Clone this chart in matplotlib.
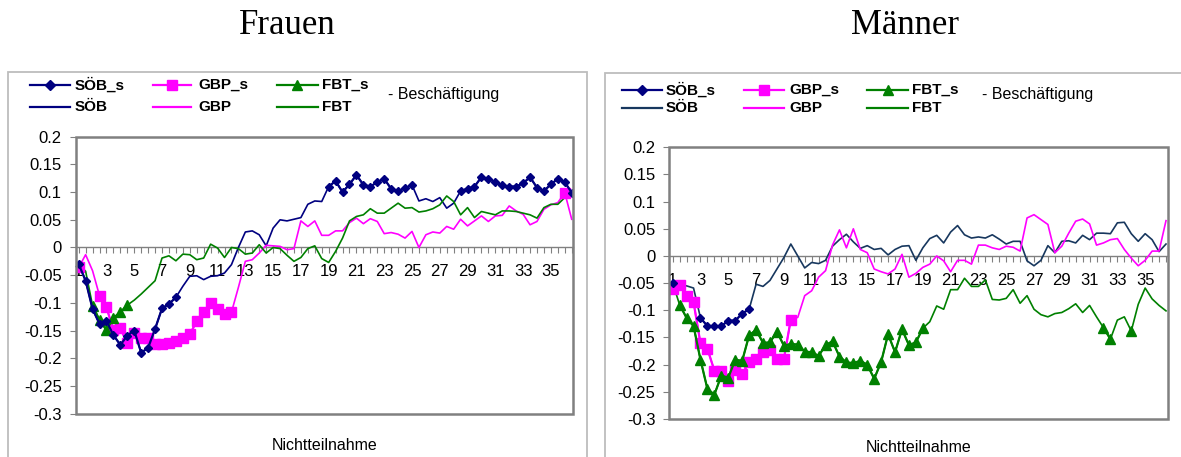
import numpy as np
import matplotlib
matplotlib.use('Agg')
import matplotlib.pyplot as plt
from matplotlib.lines import Line2D
from matplotlib.patches import Rectangle

plt.rcParams['font.family'] = ['Liberation Sans', 'DejaVu Sans']

# ---------------- data ----------------
# categories: half-month steps 1, 1.5, ..., 36.5
months = np.arange(1, 37, 0.5)
tick_months = list(range(1, 37, 2))          # labelled categories
yticks = [0.2, 0.15, 0.1, 0.05, 0, -0.05, -0.1, -0.15, -0.2, -0.25, -0.3]
ytick_labels = ["0.2", "0.15", "0.1", "0.05", "0", "-0.05", "-0.1", "-0.15", "-0.2", "-0.25", "-0.3"]

# Frauen
soeb_f = [-0.030, -0.060, -0.111, -0.138, -0.133, -0.158, -0.176, -0.159, -0.150, -0.190,
          -0.181, -0.147, -0.110, -0.102, -0.090, -0.070, -0.052, -0.051, -0.058, -0.052,
          -0.051, -0.046, -0.031, 0.000, 0.028, 0.030, 0.023, 0.003, 0.035, 0.050,
          0.048, 0.051, 0.054, 0.078, 0.084, 0.083, 0.110, 0.120, 0.100, 0.114,
          0.131, 0.113, 0.110, 0.118, 0.124, 0.106, 0.102, 0.107, 0.113, 0.084,
          0.088, 0.083, 0.090, 0.071, 0.080, 0.102, 0.106, 0.110, 0.127, 0.124,
          0.118, 0.112, 0.110, 0.110, 0.116, 0.127, 0.108, 0.102, 0.114, 0.124,
          0.118, 0.099]
gbp_f = [-0.036, -0.013, -0.042, -0.087, -0.108, -0.149, -0.146, -0.173, -0.155, -0.164,
         -0.164, -0.175, -0.174, -0.173, -0.168, -0.163, -0.157, -0.133, -0.117, -0.101,
         -0.111, -0.120, -0.117, -0.072, -0.025, -0.022, -0.010, 0.004, 0.003, 0.002,
         -0.004, -0.002, 0.048, 0.038, 0.048, 0.022, 0.022, 0.030, 0.030, 0.045,
         0.053, 0.043, 0.052, 0.047, 0.025, 0.027, 0.024, 0.017, 0.029, 0.000,
         0.023, 0.028, 0.026, 0.038, 0.033, 0.051, 0.039, 0.048, 0.057, 0.047,
         0.057, 0.058, 0.075, 0.066, 0.060, 0.041, 0.047, 0.069, 0.077, 0.081,
         0.099, 0.051]
fbt_f = [-0.030, -0.043, -0.105, -0.131, -0.149, -0.127, -0.117, -0.104, -0.095, -0.084,
         -0.072, -0.060, -0.019, -0.015, -0.024, -0.012, -0.013, -0.022, -0.019, 0.006,
         -0.001, -0.018, 0.000, -0.002, -0.012, -0.010, 0.005, -0.010, 0.000, -0.002,
         -0.014, -0.025, -0.018, -0.002, 0.003, -0.020, -0.027, -0.007, 0.017, 0.048,
         0.056, 0.059, 0.070, 0.062, 0.062, 0.071, 0.080, 0.071, 0.072, 0.064,
         0.066, 0.070, 0.077, 0.093, 0.083, 0.059, 0.072, 0.054, 0.065, 0.062,
         0.059, 0.066, 0.066, 0.065, 0.062, 0.059, 0.053, 0.072, 0.078, 0.078,
         0.090, None]
# significant (index ranges, inclusive) -> *_s series
sig_soeb_f = [(0, 14), (36, 48), (55, 71)]
sig_gbp_f = [(0, 0), (3, 22), (70, 70)]
sig_fbt_f = [(2, 7)]

# Maenner
soeb_m = [-0.050, -0.053, -0.055, -0.059, -0.114, -0.129, -0.129, -0.129, -0.119, -0.119,
          -0.106, -0.098, -0.052, -0.056, -0.045, -0.024, -0.003, 0.022, 0.000, -0.022,
          -0.012, -0.014, -0.008, 0.018, 0.030, 0.040, 0.026, 0.014, 0.019, 0.012,
          0.014, 0.002, 0.012, 0.018, 0.019, -0.008, 0.015, 0.032, 0.038, 0.024,
          0.044, 0.056, 0.039, 0.033, 0.035, 0.033, 0.039, 0.031, 0.022, 0.027,
          0.027, -0.009, -0.018, -0.008, 0.019, 0.006, 0.027, 0.028, 0.024, 0.038,
          0.030, 0.042, 0.042, 0.041, 0.061, 0.062, 0.041, 0.027, 0.041, 0.030,
          0.008, 0.022]
gbp_m = [-0.061, -0.053, -0.074, -0.085, -0.161, -0.171, -0.211, -0.211, -0.230, -0.210,
         -0.218, -0.195, -0.190, -0.177, -0.173, -0.189, -0.189, -0.117, -0.113, -0.073,
         -0.064, -0.039, -0.027, 0.020, 0.048, 0.015, 0.050, 0.012, 0.006, -0.024,
         -0.029, -0.033, -0.024, 0.003, -0.039, -0.032, -0.021, -0.015, 0.000, -0.009,
         -0.029, -0.008, -0.008, -0.015, 0.020, 0.020, 0.015, 0.012, 0.018, 0.016,
         0.009, 0.070, 0.076, 0.067, 0.058, 0.006, 0.018, 0.042, 0.064, 0.068,
         0.059, 0.020, 0.024, 0.030, 0.032, 0.012, -0.004, -0.018, -0.008, 0.009,
         0.009, 0.065]
fbt_m = [-0.050, -0.090, -0.114, -0.129, -0.191, -0.245, -0.255, -0.220, -0.224, -0.191,
         -0.193, -0.146, -0.136, -0.160, -0.159, -0.139, -0.165, -0.162, -0.163, -0.176,
         -0.177, -0.184, -0.164, -0.157, -0.185, -0.196, -0.197, -0.193, -0.200, -0.226,
         -0.195, -0.144, -0.177, -0.135, -0.164, -0.159, -0.133, -0.121, -0.092, -0.098,
         -0.062, -0.062, -0.041, -0.056, -0.056, -0.044, -0.080, -0.081, -0.078, -0.062,
         -0.087, -0.073, -0.098, -0.108, -0.112, -0.106, -0.104, -0.097, -0.088, -0.104,
         -0.091, -0.112, -0.132, -0.153, -0.118, -0.112, -0.138, -0.089, -0.059, -0.079,
         -0.091, -0.101]
sig_soeb_m = [(0, 0), (4, 11)]
sig_gbp_m = [(0, 17)]
sig_fbt_m = [(1, 36), (62, 63), (66, 66)]

# ---------------- style ----------------
C_SOEB = '#000080'
C_SOEB_M_LINE = '#17375E'
C_GBP = '#FF00FF'
C_FBT = '#008000'
GRAY = '#808080'

W, H = 1181, 457
fig = plt.figure(figsize=(W / 100, H / 100), dpi=100)


def fx(x):
    return x / W


def fy(y):
    return 1 - y / H


def to_arr(v):
    return np.array([np.nan if a is None else a for a in v], dtype=float)


def sig_series(v, ranges):
    arr = to_arr(v)
    out = np.full_like(arr, np.nan)
    for a, b in ranges:
        out[a:b + 1] = arr[a:b + 1]
    return out


def panel(box, xlim, series, soeb_line_color):
    l, t, r, b = box
    ax = fig.add_axes([fx(l), fy(b), fx(r) - fx(l), fy(t) - fy(b)])
    x = np.arange(len(months))
    (soeb, s_soeb), (gbp, s_gbp), (fbt, s_fbt) = series
    ax.plot(x, to_arr(soeb), color=soeb_line_color, lw=1.2, zorder=3)
    ax.plot(x, to_arr(gbp), color=C_GBP, lw=1.2, zorder=3)
    ax.plot(x, to_arr(fbt), color=C_FBT, lw=1.2, zorder=3)
    ax.plot(x, sig_series(soeb, s_soeb), color=C_SOEB, lw=1.6, marker='D', ms=4.5, zorder=5)
    ax.plot(x, sig_series(gbp, s_gbp), color=C_GBP, lw=1.6, marker='s', ms=6.5, zorder=4)
    ax.plot(x, sig_series(fbt, s_fbt), color=C_FBT, lw=1.6, marker='^', ms=6.5, zorder=4)

    ax.set_xlim(*xlim)
    ax.set_ylim(-0.3, 0.2)
    for s in ['top', 'right', 'left']:
        ax.spines[s].set_visible(False)
    ax.spines['bottom'].set_position(('data', 0))
    ax.spines['bottom'].set_color(GRAY)
    ax.spines['bottom'].set_linewidth(1.0)
    ax.add_patch(Rectangle((0, 0), 1, 1, transform=ax.transAxes, fill=False,
                           ec=GRAY, lw=1.8, zorder=6, clip_on=False))
    ax.set_xticks(x)
    lab = []
    for m in months:
        lab.append(str(int(m)) if (m == int(m) and int(m) in tick_months) else '')
    ax.set_xticklabels(lab, fontsize=12)
    ax.tick_params(axis='x', direction='out', length=4, width=0.8, color=GRAY, pad=8)
    ax.set_yticks(yticks)
    ax.set_yticklabels(ytick_labels, fontsize=12)
    ax.tick_params(axis='y', direction='out', length=4, width=0.8, color=GRAY, pad=6)
    ax.patch.set_alpha(0)
    return ax


def legend(row1, row2, items, besch):
    for (x0, x1, xt, lab, color, lcolor, mk, ms) in items:
        xm = (x0 + x1) / 2
        fig.add_artist(Line2D([fx(x0), fx(x1)], [fy(row1), fy(row1)], color=color, lw=1.6,
                              transform=fig.transFigure))
        fig.add_artist(Line2D([fx(xm)], [fy(row1)], color=color, marker=mk, ms=ms,
                              transform=fig.transFigure))
        fig.text(fx(xt), fy(row1), lab + '_s', fontsize=11, fontweight='bold',
                 va='center', ha='left')
        fig.add_artist(Line2D([fx(x0), fx(x1)], [fy(row2), fy(row2)], color=lcolor, lw=1.6,
                              transform=fig.transFigure))
        fig.text(fx(xt), fy(row2), lab, fontsize=11, fontweight='bold',
                 va='center', ha='left')
    fig.text(fx(besch[0]), fy(besch[1]), '- Beschäftigung', fontsize=11.5, va='center', ha='left')


# chart-area borders
fig.add_artist(Rectangle((fx(8), fy(460)), fx(587) - fx(8), fy(72) - fy(460),
                         transform=fig.transFigure, fill=False, ec='#BDBDBD', lw=1.3))
fig.add_artist(Rectangle((fx(605), fy(460)), fx(1185) - fx(605), fy(73) - fy(460),
                         transform=fig.transFigure, fill=False, ec='#BDBDBD', lw=1.3))

# titles
fig.text(fx(287), fy(25), 'Frauen', fontsize=25, family='Liberation Serif', ha='center', va='center')
fig.text(fx(905), fy(25), 'Männer', fontsize=25, family='Liberation Serif', ha='center', va='center')

# panels
panel((75.7, 136.7, 573.3, 413.7), (-0.43, 71.23),
      [(soeb_f, sig_soeb_f), (gbp_f, sig_gbp_f), (fbt_f, sig_fbt_f)], C_SOEB)
panel((669.3, 147.3, 1168.3, 419.0), (-0.49, 71.33),
      [(soeb_m, sig_soeb_m), (gbp_m, sig_gbp_m), (fbt_m, sig_fbt_m)], C_SOEB_M_LINE)

fig.text(fx(325), fy(446), 'Nichtteilnahme', fontsize=11.5, ha='center', va='center')
fig.text(fx(919), fy(448), 'Nichtteilnahme', fontsize=11.5, ha='center', va='center')

legend(85, 107,
       [(29.5, 70, 74.5, 'SÖB', C_SOEB, C_SOEB, 'D', 5),
        (153, 191, 198, 'GBP', C_GBP, C_GBP, 's', 7),
        (277, 318, 322, 'FBT', C_FBT, C_FBT, '^', 7)],
       (388, 95))
legend(90, 108,
       [(622, 661.5, 666, 'SÖB', C_SOEB, C_SOEB_M_LINE, 'D', 5),
        (744, 784, 789, 'GBP', C_GBP, C_GBP, 's', 7),
        (867, 908.5, 912, 'FBT', C_FBT, C_FBT, '^', 7)],
       (982, 94))

fig.savefig('out.png', dpi=100)
